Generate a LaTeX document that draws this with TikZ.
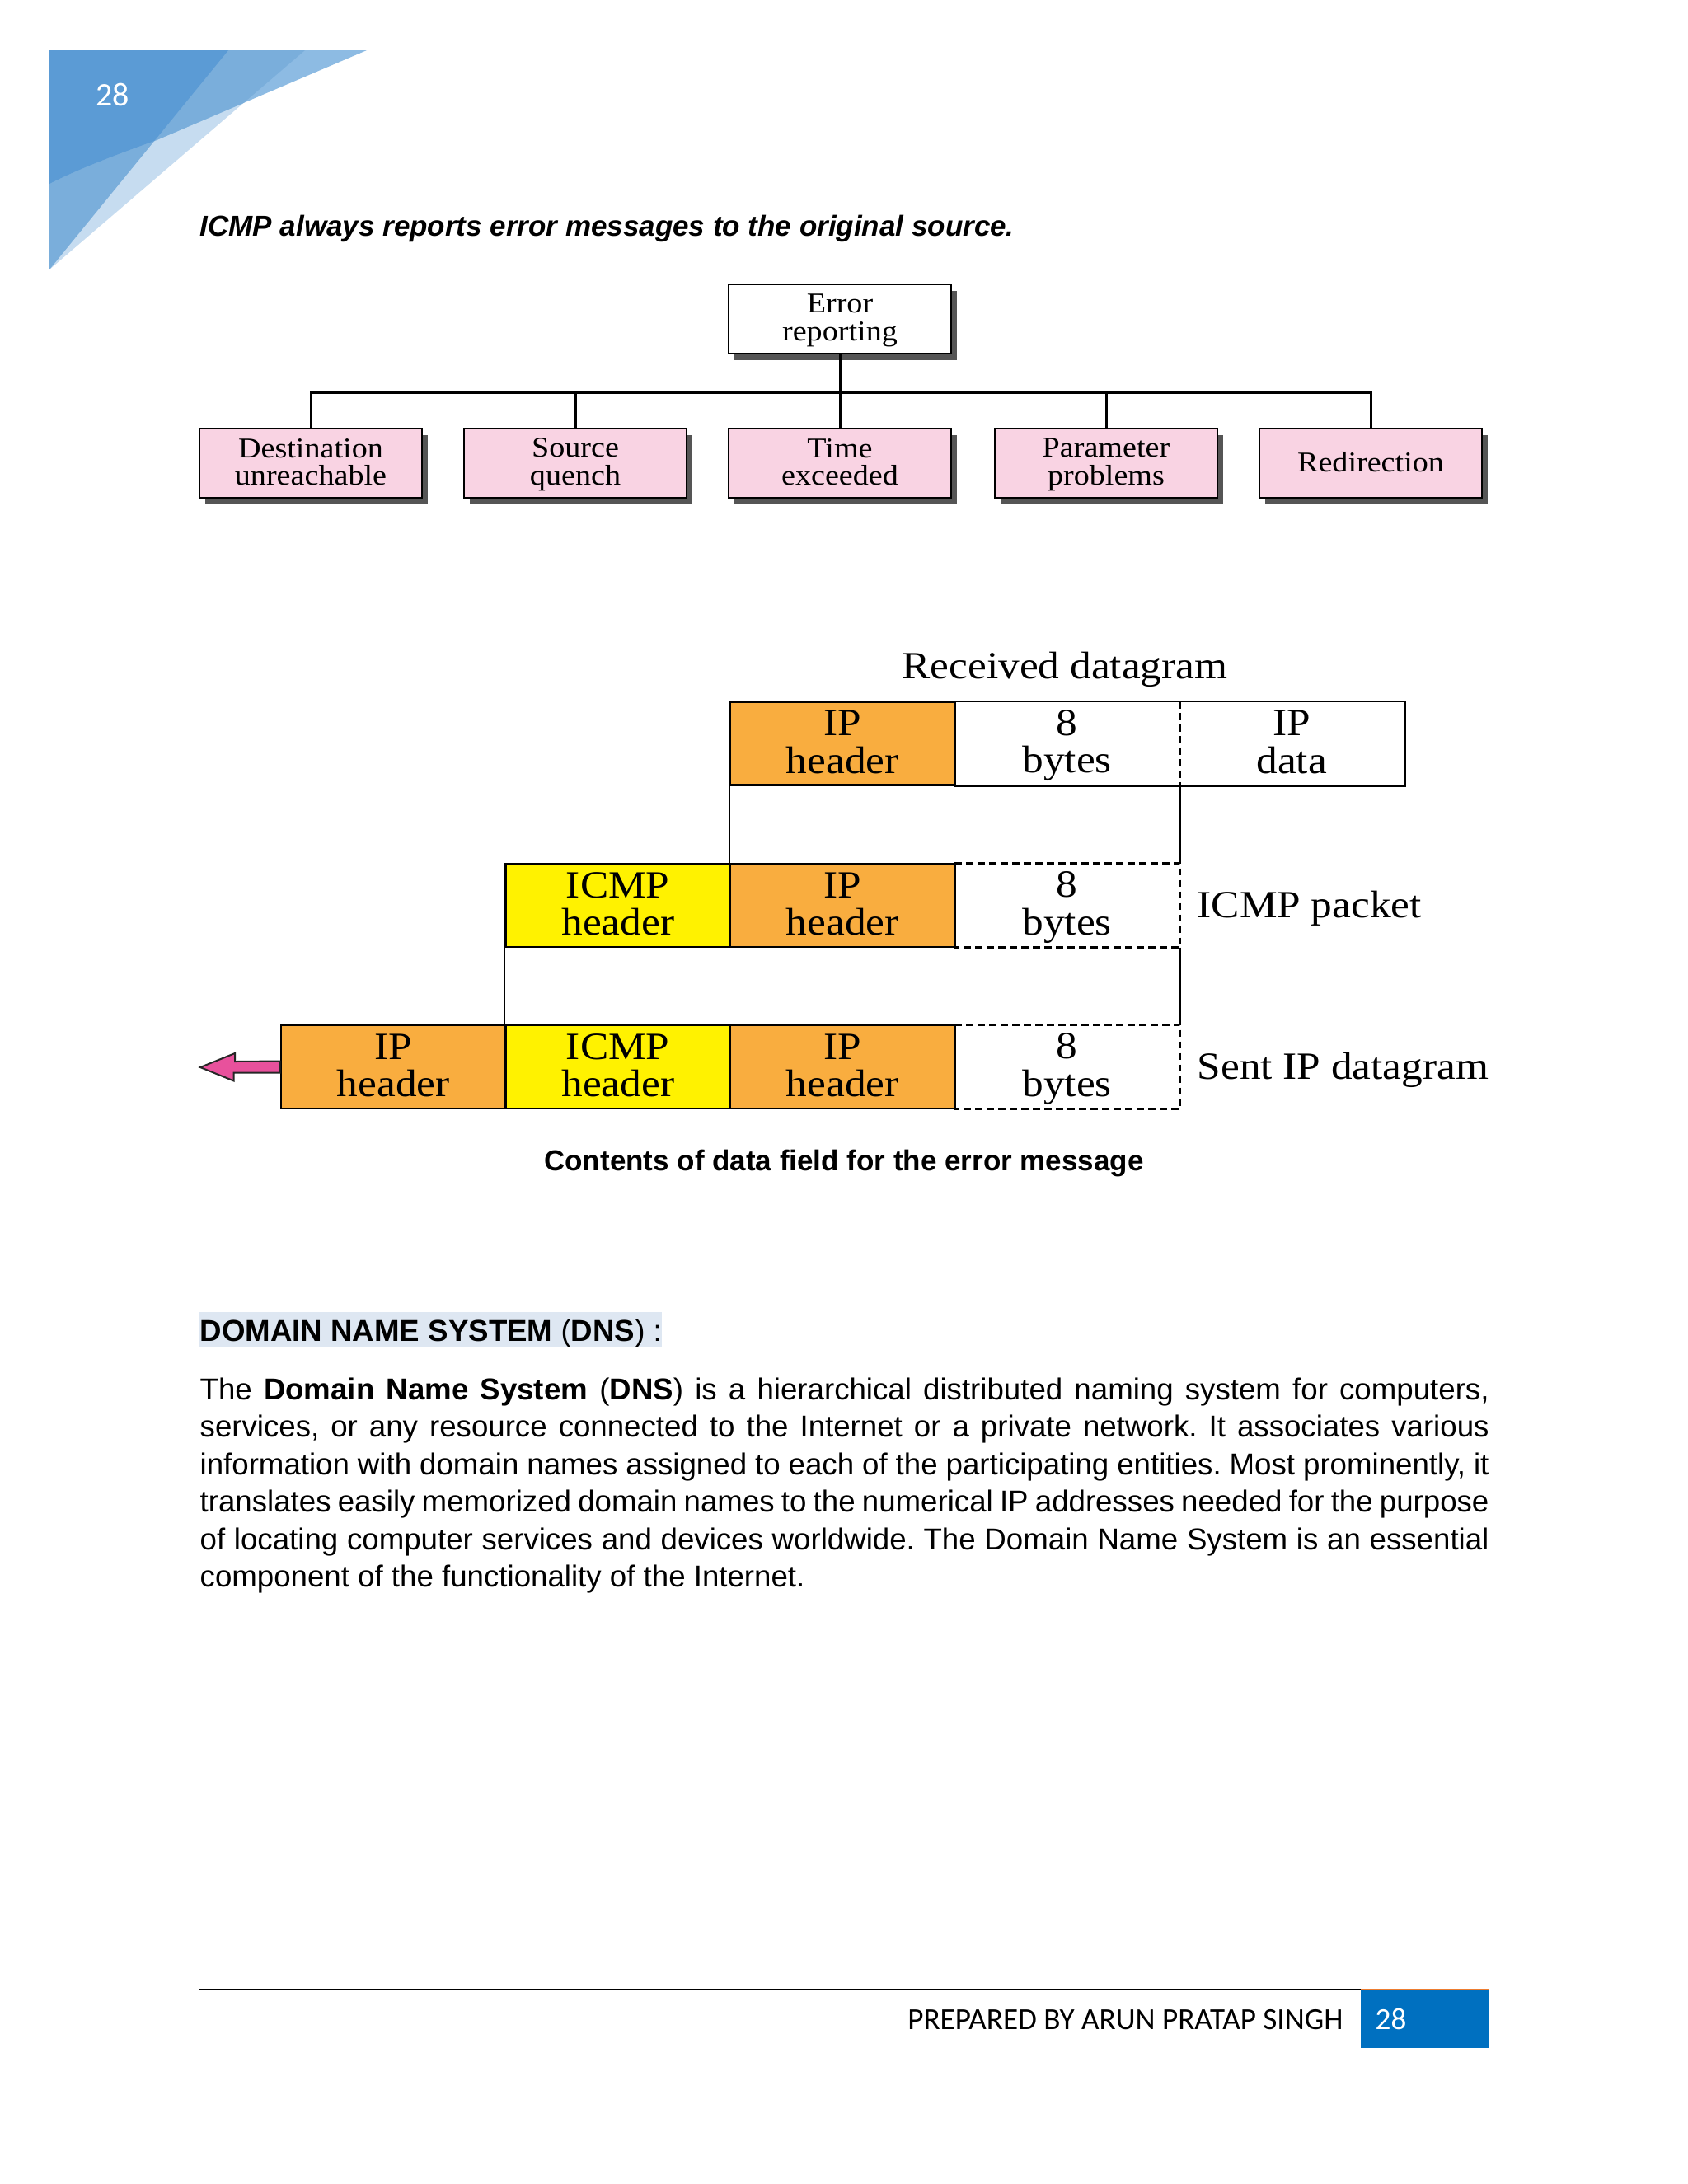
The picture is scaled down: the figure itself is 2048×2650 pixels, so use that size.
\documentclass[tikz,border=0pt]{standalone}
\usepackage{fontspec}
\usetikzlibrary{shadows}
\newfontfamily\arialf{Liberation Sans}
\newfontfamily\calf{Carlito}
\newfontfamily\tnrf[FakeStretch=1.1]{Liberation Serif}
\definecolor{triA}{HTML}{5B9BD5}
\definecolor{triB}{HTML}{7AAEDB}
\definecolor{triC}{HTML}{8DBBE3}
\definecolor{triD}{HTML}{C6DCF0}
\definecolor{pinkbox}{HTML}{F9D3E3}
\definecolor{shadowgray}{HTML}{555555}
\definecolor{orangecell}{HTML}{F9AD3F}
\definecolor{yellowcell}{HTML}{FFF200}
\definecolor{arrowpink}{HTML}{E8519C}
\definecolor{hilite}{HTML}{DEE7F2}
\definecolor{footblue}{HTML}{0070C0}
\definecolor{footorange}{HTML}{ED7D31}
\newcommand\cst{\rule[-0.2\baselineskip]{0pt}{\baselineskip}}
\tikzset{
  treebox/.style={draw, line width=0.8pt, minimum width=81pt, minimum height=25.2pt,
    inner sep=0pt, align=center, font=\tnrf\fontsize{10.4}{10}\selectfont,
    drop shadow={shadow xshift=2.1pt, shadow yshift=-2.4pt, fill=shadowgray, opacity=1}},
  treeline/.style={line width=0.9pt},
  cell/.style={minimum width=81.75pt, minimum height=30.3pt, inner sep=0pt, align=center,
    font=\tnrf\fontsize{14}{13.6}\selectfont},
  solidcell/.style={cell, draw, line width=0.8pt},
  cellline/.style={line width=0.8pt},
  dashline/.style={line width=0.8pt, dash pattern=on 2.6pt off 1.6pt},
  linkline/.style={line width=0.6pt},
  figlabel/.style={inner sep=0pt, font=\tnrf\fontsize{14}{16}\selectfont},
}
\begin{document}
\begin{tikzpicture}[x=0.3pt,y=-0.3pt]
\useasboundingbox (0,0) rectangle (2048,2650);
\fill[white] (0,0) rectangle (2048,2650);

% corner decoration
\fill[triD] (60,61) -- (370,61) -- (60,327) -- cycle;
\fill[triB] (60,61) -- (277,61) -- (60,327) -- cycle;
\fill[triC] (60,61) -- (445,61) -- (300,123) -- (190,170) .. controls (140,188) and (95,205) .. (60,223) -- cycle;
\begin{scope}
  \clip (60,61) -- (370,61) -- (60,327) -- cycle;
  \fill[triB] (60,61) -- (445,61) -- (300,123) -- (190,170) .. controls (140,188) and (95,205) .. (60,223) -- cycle;
\end{scope}
\begin{scope}
  \clip (60,61) -- (277,61) -- (60,327) -- cycle;
  \fill[triA] (60,61) -- (445,61) -- (300,123) -- (190,170) .. controls (140,188) and (95,205) .. (60,223) -- cycle;
\end{scope}
\node[anchor=base west, inner sep=0pt, text=white, font=\calf\fontsize{12}{14}\selectfont] (pgtop) at (116,128) {28};

% heading
\node[anchor=base west, inner sep=0pt, font=\arialf\bfseries\itshape\fontsize{10.5}{12}\selectfont] (head) at (242,286)
  {ICMP always reports error messages to the original source.};

% tree
\node[treebox, fill=white] (err) at (1019,387) {\cst Error\\\cst reporting};
\node[treebox, fill=pinkbox] (b1) at (377,562) {\cst Destination\\\cst unreachable};
\node[treebox, fill=pinkbox] (b2) at (698,562) {\cst Source\\\cst quench};
\node[treebox, fill=pinkbox] (b3) at (1019,562) {\cst Time\\\cst exceeded};
\node[treebox, fill=pinkbox] (b4) at (1342,562) {\cst Parameter\\\cst problems};
\node[treebox, fill=pinkbox] (b5) at (1663,562) {\cst Redirection};
\coordinate (bar) at (1019,476);
\draw[treeline] (err.south) -- (err.south |- bar);
\draw[treeline] (b1.north) |- (bar) -| (b5.north);
\draw[treeline] (b2.north) -- (b2.north |- bar);
\draw[treeline] (b3.north) -- (b3.north |- bar);
\draw[treeline] (b4.north) -- (b4.north |- bar);

% datagram figure
\node[figlabel, anchor=base] (recv) at (1292,823) {Received datagram};
% row 1
\node[solidcell, fill=orangecell] (r1ip) at (1022.25,902) {\cst IP\\\cst header};
\node[cell] (r1b) at (1294.75,902) {\cst 8\\\cst bytes};
\node[cell] (r1d) at (1567.25,902) {\cst IP\\\cst data};
\draw[cellline] (r1b.north west) -- (r1d.north east) -- (r1d.south east) -- (r1b.south west);
\draw[dashline] (r1b.north east) -- (r1b.south east);
% row 2
\node[solidcell, fill=yellowcell] (r2icmp) at (749.75,1098.5) {\cst ICMP\\\cst header};
\node[solidcell, fill=orangecell] (r2ip) at (1022.25,1098.5) {\cst IP\\\cst header};
\node[cell] (r2b) at (1294.75,1098.5) {\cst 8\\\cst bytes};
\draw[dashline] (r2b.north west) -- (r2b.north east) -- (r2b.south east) -- (r2b.south west);
\node[figlabel, anchor=base west] (icmppk) at (1452,1113) {ICMP packet};
% row 3
\node[solidcell, fill=orangecell] (r3ip) at (477.25,1294.5) {\cst IP\\\cst header};
\node[solidcell, fill=yellowcell] (r3icmp) at (749.75,1294.5) {\cst ICMP\\\cst header};
\node[solidcell, fill=orangecell] (r3ip2) at (1022.25,1294.5) {\cst IP\\\cst header};
\node[cell] (r3b) at (1294.75,1294.5) {\cst 8\\\cst bytes};
\draw[dashline] (r3b.north west) -- (r3b.north east) -- (r3b.south east) -- (r3b.south west);
\node[figlabel, anchor=base west] (sentip) at (1452,1309) {Sent IP datagram};
% links between rows
\draw[linkline] (r1ip.south west) -- (r2ip.north west);
\draw[linkline] (r1b.south east) -- (r2b.north east);
\draw[linkline] (r2icmp.south west) -- (r3icmp.north west);
\draw[linkline] (r2b.south east) -- (r3b.north east);
% outgoing arrow
\coordinate (tip) at (243,1295);
\filldraw[fill=arrowpink, draw=black!85, line width=0.6pt, line join=miter]
  ([yshift=-2.1pt]r3ip.west) -- ++(-56,0) -- ++(0,10) -- (tip) -- ++(42,-17) -- ++(0,10) -- ([yshift=2.1pt]r3ip.west) -- cycle;

% caption
\node[anchor=base, inner sep=0pt, font=\arialf\bfseries\fontsize{10.5}{12}\selectfont] (cap) at (1024,1420)
  {Contents of data field for the error message};

% DNS section
\fill[hilite] (242,1592) rectangle (803,1635);
\node[anchor=base west, inner sep=0pt, font=\arialf\fontsize{11}{13}\selectfont] (dnshead) at (242,1627)
  {\textbf{DOMAIN NAME SYSTEM} (\textbf{DNS}) :};
\node[anchor=base west, inner sep=0pt, text width=469.2pt, align=justify,
      font=\arialf\fontsize{11}{13.65}\selectfont\frenchspacing] (dnspar) at (242,1698)
  {The \textbf{Domain Name System} (\textbf{DNS}) is a hierarchical distributed naming system for computers,\linebreak
   services, or any resource connected to the Internet or a private network. It associates various\linebreak
   information with domain names assigned to each of the participating entities. Most prominently, it\linebreak
   translates easily memorized domain names to the numerical IP addresses needed for the purpose\linebreak
   of locating computer services and devices worldwide. The Domain Name System is an essential\linebreak
   component of the functionality of the Internet.};

% footer
\draw[line width=0.5pt] (242,2414) -- (1651,2414);
\fill[footblue] (1651,2415) rectangle (1806,2485);
\draw[footorange, line width=0.5pt] (1651,2414) -- (1806,2414);
\node[anchor=base east, inner sep=0pt, font=\calf\fontsize{11.15}{13}\selectfont] (prep) at (1630,2462)
  {PREPARED BY ARUN PRATAP SINGH};
\node[anchor=base west, inner sep=0pt, text=white, font=\calf\fontsize{11.15}{13}\selectfont] (pgbot) at (1668,2462) {28};
\end{tikzpicture}
\end{document}
